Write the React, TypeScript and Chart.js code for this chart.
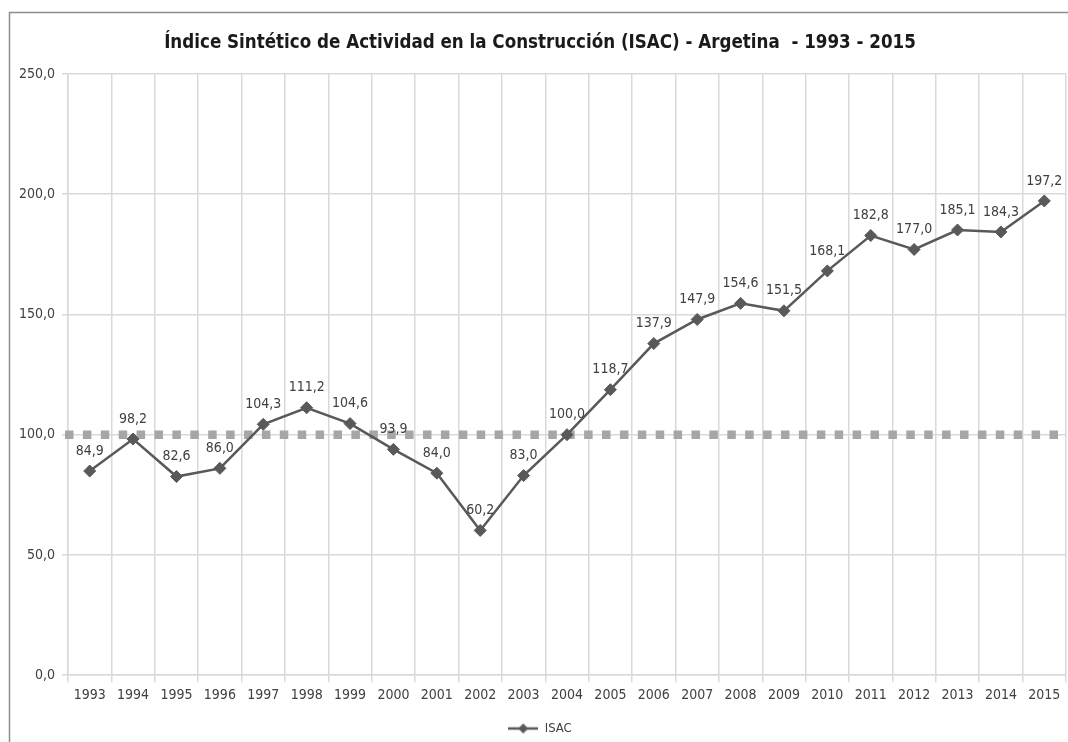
import React, { useEffect, useRef } from 'react';
import { Chart, registerables } from 'chart.js';

Chart.register(...registerables);

const years = ['1993', '1994', '1995', '1996', '1997', '1998', '1999', '2000', '2001', '2002', '2003', '2004', '2005', '2006', '2007', '2008', '2009', '2010', '2011', '2012', '2013', '2014', '2015'];
const isacValues = [84.9, 98.2, 82.6, 86.0, 104.3, 111.2, 104.6, 93.9, 84.0, 60.2, 83.0, 100.0, 118.7, 137.9, 147.9, 154.6, 151.5, 168.1, 182.8, 177.0, 185.1, 184.3, 197.2];
const yMin = 0;
const yMax = 250;
const yStep = 50;
const baselineValue = 100;
const chartTitle = 'Índice Sintético de Actividad en la Construcción (ISAC) - Argetina  - 1993 - 2015';
const seriesName = 'ISAC';

const FONT = '"Liberation Sans Narrow", "DejaVu Sans Condensed", "Liberation Sans", sans-serif';
const LINE_COLOR = '#595959';
const TEXT_COLOR = '#404040';
const GRID_COLOR = '#d9d9d9';
const CANVAS_W = 1073;
const CANVAS_H = 742;

const fmt = (v: number) => v.toFixed(1).replace('.', ',');

function makeLegendIcon(): HTMLCanvasElement {
  const c = document.createElement('canvas');
  c.width = 30;
  c.height = 12;
  const g = c.getContext('2d')!;
  g.strokeStyle = LINE_COLOR;
  g.lineWidth = 2.5;
  g.beginPath();
  g.moveTo(0, 6);
  g.lineTo(30, 6);
  g.stroke();
  g.fillStyle = LINE_COLOR;
  g.beginPath();
  g.moveTo(15, 1);
  g.lineTo(20, 6);
  g.lineTo(15, 11);
  g.lineTo(10, 6);
  g.closePath();
  g.fill();
  return c;
}

const framePlugin = {
  id: 'frame',
  beforeDraw(chart: any) {
    const ctx = chart.ctx;
    ctx.save();
    ctx.fillStyle = '#ffffff';
    ctx.fillRect(0, 0, chart.width, chart.height);
    ctx.strokeStyle = '#8c8c8c';
    ctx.lineWidth = 1.5;
    ctx.strokeRect(9.5, 12.5, chart.width + 20, chart.height + 20);
    ctx.restore();
  },
};

const baselinePlugin = {
  id: 'baseline',
  beforeDatasetsDraw(chart: any) {
    const { ctx, chartArea, scales } = chart;
    const y = scales.y.getPixelForValue(baselineValue);
    ctx.save();
    ctx.strokeStyle = '#a6a6a6';
    ctx.lineWidth = 8.5;
    ctx.setLineDash([8.5, 9.4]);
    ctx.lineCap = 'butt';
    ctx.beginPath();
    ctx.moveTo(chartArea.left - 3, y);
    ctx.lineTo(chartArea.right, y);
    ctx.stroke();
    ctx.restore();
  },
};

const labelPlugin = {
  id: 'pointLabels',
  afterDatasetsDraw(chart: any) {
    const ctx = chart.ctx;
    const meta = chart.getDatasetMeta(0);
    const data = chart.data.datasets[0].data as number[];
    ctx.save();
    ctx.font = `14px ${FONT}`;
    ctx.fillStyle = TEXT_COLOR;
    ctx.textAlign = 'center';
    ctx.textBaseline = 'middle';
    meta.data.forEach((pt: any, i: number) => {
      ctx.fillText(fmt(data[i]), pt.x, pt.y - 20);
    });
    ctx.restore();
  },
};

export default function App() {
  const ref = useRef<HTMLCanvasElement>(null);

  useEffect(() => {
    if (!ref.current) return;
    const icon = makeLegendIcon();
    const chart = new Chart(ref.current, {
      type: 'line',
      data: {
        labels: years,
        datasets: [
          {
            label: seriesName,
            data: isacValues,
            borderColor: LINE_COLOR,
            backgroundColor: LINE_COLOR,
            borderWidth: 2.5,
            pointStyle: 'rectRot',
            pointRadius: 6,
            pointBackgroundColor: LINE_COLOR,
            pointBorderColor: LINE_COLOR,
            pointBorderWidth: 1,
            tension: 0,
          },
        ],
      },
      options: {
        animation: false,
        responsive: false,
        devicePixelRatio: 1,
        layout: { padding: { left: 10, right: 3, top: 0, bottom: -3 } },
        plugins: {
          title: {
            display: true,
            text: chartTitle,
            color: '#1a1a1a',
            font: { family: FONT, size: 18.6, weight: 'bold' },
            padding: { top: 32, bottom: 19.6 },
          },
          legend: {
            display: true,
            position: 'bottom',
            labels: {
              usePointStyle: true,
              pointStyleWidth: 30,
              color: TEXT_COLOR,
              font: { family: FONT, size: 13 },
              padding: 13,
              generateLabels: () => [
                {
                  text: seriesName,
                  pointStyle: icon as any,
                  fillStyle: LINE_COLOR,
                  strokeStyle: LINE_COLOR,
                  lineWidth: 0,
                  hidden: false,
                  datasetIndex: 0,
                  fontColor: TEXT_COLOR,
                } as any,
              ],
            },
          },
          tooltip: { enabled: false },
        },
        scales: {
          x: {
            type: 'category',
            offset: true,
            grid: { offset: true, color: GRID_COLOR, lineWidth: 1.5, tickLength: 7, drawTicks: true },
            border: { color: GRID_COLOR, width: 1.5 },
            ticks: {
              color: TEXT_COLOR,
              font: { family: FONT, size: 14 },
              padding: 5,
              maxRotation: 0,
              autoSkip: false,
            },
            afterFit: (s: any) => {
              s.paddingRight = 0;
              s.paddingLeft = 0;
            },
          },
          y: {
            min: yMin,
            max: yMax,
            grid: { color: GRID_COLOR, lineWidth: 1.5, tickLength: 6 },
            border: { color: GRID_COLOR, width: 1.5 },
            ticks: {
              stepSize: yStep,
              color: TEXT_COLOR,
              font: { family: FONT, size: 14 },
              padding: 7,
              callback: (v: any) => fmt(Number(v)),
            },
            afterFit: (s: any) => {
              s.width = 58;
            },
          },
        },
      },
      plugins: [framePlugin, baselinePlugin, labelPlugin],
    });
    return () => chart.destroy();
  }, []);

  return (
    <div style={{ position: 'fixed', left: 0, top: 0, width: 1068, height: 742, overflow: 'hidden', background: '#fff' }}>
      <canvas ref={ref} width={CANVAS_W} height={CANVAS_H} style={{ display: 'block', width: CANVAS_W, height: CANVAS_H }} />
    </div>
  );
}
